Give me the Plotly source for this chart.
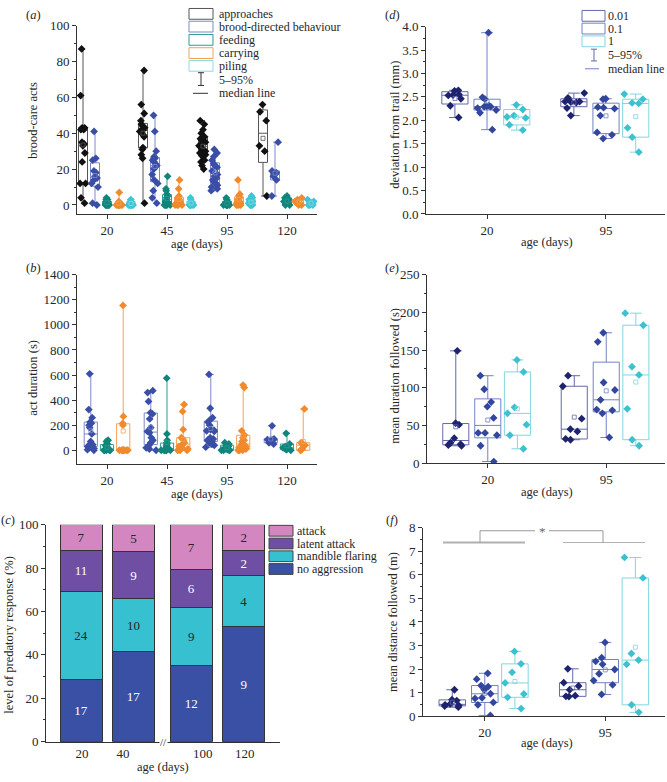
import numpy as np
import plotly.graph_objects as go

W, H = 667, 782
FONT = "Liberation Serif"
TXT = "#262626"

# ---------------- data ----------------
ages_a = ["20", "45", "95", "120"]
approaches = [[87, 61, 43, 43, 42, 42, 35, 34, 33, 29, 24, 12, 12, 4, 1],
              [75, 56, 51, 47, 45, 44, 43, 42, 42, 41, 40, 39, 38, 32, 31, 28, 26, 1],
              [47, 45, 42, 40, 38, 37, 36, 35, 34, 33, 32, 31, 30, 29, 28, 27, 25, 24, 22, 20],
              [56, 52, 47, 33, 30, 5]]
brood = [[41, 26, 25, 19, 18, 16, 15, 14, 12, 10, 1, 0],
         [50, 41, 30, 27, 26, 25, 24, 23, 22, 21, 20, 17, 14, 12, 8, 4, 1],
         [31, 29, 27, 25, 23, 22, 21, 19, 17, 16, 15, 14, 13, 12, 11, 10, 9, 8],
         [35, 19, 18, 17, 16, 14, 5]]
feeding = [[4, 3, 3, 2, 2, 2, 1, 1, 1, 0, 0, 0, 0, 0, 0],
           [16, 9, 8, 6, 5, 4, 3, 2, 2, 1, 1, 0, 0, 0, 0, 0],
           [4, 3, 2, 2, 1, 1, 0, 0, 0, 0, 0, 0, 0],
           [5, 4, 3, 2, 1, 0, 0]]
carrying = [[7, 2, 1, 1, 1, 0, 0, 0, 0, 0, 0, 0, 0],
            [14, 9, 5, 4, 3, 3, 2, 2, 1, 1, 0, 0, 0, 0],
            [14, 6, 5, 4, 3, 3, 2, 1, 1, 0, 0, 0, 0],
            [4, 3, 2, 1, 0, 0]]
piling = [[3, 2, 2, 1, 1, 0, 0, 0, 0, 0, 0, 0],
          [4, 3, 2, 2, 1, 1, 0, 0, 0, 0, 0, 0],
          [5, 4, 3, 2, 1, 1, 0, 0, 0, 0],
          [3, 2, 1, 0, 0, 0]]

dur_brood = [[610, 325, 260, 225, 215, 200, 180, 130, 70, 45, 40, 30, 15, 5, 0],
             [475, 460, 390, 300, 290, 250, 180, 150, 140, 100, 80, 60, 40, 20, 10, 0],
             [605, 335, 260, 240, 225, 200, 165, 160, 155, 150, 100, 90, 80, 60, 50, 40, 25],
             [195, 90, 85, 80, 70, 60, 50]]
dur_feeding = [[80, 70, 50, 40, 30, 20, 10, 5, 0, 0, 0, 0, 0],
               [575, 130, 80, 60, 50, 40, 30, 20, 10, 5, 0, 0, 0, 0, 0, 0],
               [60, 50, 40, 30, 20, 10, 5, 0, 0, 0, 0],
               [135, 50, 30, 20, 10, 5, 0]]
dur_carrying = [[1155, 270, 215, 200, 0, 0, 0, 0, 0, 0, 0, 0],
                [365, 310, 165, 100, 90, 80, 60, 50, 40, 30, 20, 10, 0, 0, 0],
                [520, 500, 155, 120, 100, 80, 70, 50, 40, 30, 20, 10, 0, 0, 0],
                [330, 60, 50, 40, 10, 0, 0]]

ages_c = ["20", "40", "100", "120"]
no_aggression = [17, 17, 12, 9]
mandible_flaring = [24, 10, 9, 4]
latent_attack = [11, 9, 6, 2]
attack = [7, 5, 7, 2]

ages_d = ["20", "95"]
dev_001 = [[2.64, 2.63, 2.55, 2.54, 2.53, 2.46, 2.31, 2.06],
           [2.58, 2.48, 2.40, 2.40, 2.39, 2.38, 2.26, 2.10]]
dev_01 = [[3.87, 2.49, 2.45, 2.31, 2.30, 2.29, 2.29, 2.26, 2.22, 2.16, 1.80],
          [2.46, 2.45, 2.28, 2.27, 2.25, 2.10, 1.74, 1.69, 1.61]]
dev_1 = [[2.33, 2.23, 2.10, 2.07, 2.05, 1.90, 1.79],
         [2.56, 2.45, 2.37, 2.36, 1.84, 1.64, 1.32]]

dur_001 = [[149, 53, 51, 33, 27, 25, 24, 23],
           [116, 102, 59, 45, 42, 32, 31]]
dur_01 = [[116, 98, 81, 75, 60, 40, 40, 37, 23, 2],
          [173, 161, 107, 97, 84, 71, 70, 66, 34]]
dur_1 = [[137, 121, 74, 66, 51, 37, 19],
         [199, 183, 128, 117, 72, 31, 23]]

dist_001 = [[1.12, 0.70, 0.66, 0.52, 0.48, 0.45, 0.43, 0.38],
            [2.01, 1.42, 1.28, 1.12, 0.87, 0.84, 0.83]]
dist_01 = [[1.82, 1.57, 1.30, 1.25, 1.12, 0.95, 0.78, 0.75, 0.58, 0.48, 0.03],
           [3.13, 2.48, 2.33, 2.20, 1.98, 1.80, 1.51, 1.33, 0.92]]
dist_1 = [[2.75, 2.22, 1.86, 1.41, 0.94, 0.80, 0.32],
          [6.74, 5.87, 2.66, 2.38, 2.20, 0.48, 0.16]]

# ---------------- helpers ----------------
def xdom(x0, x1):
    return [x0 / W, x1 / W]

def ydom(y0, y1):
    return [1 - y1 / H, 1 - y0 / H]

def px(x):
    return x / W

def py(y):
    return 1 - y / H

fig = go.Figure()

def add_boxes(groups, xa, ya, offset, width, line_c, mark_c, msize=6):
    # box: quartiles, whiskers to min / max (5-95% for these small samples)
    pos = [i + 1 + offset for i in range(len(groups))]
    q1 = [float(np.percentile(g, 25, method="weibull")) for g in groups]
    med = [float(np.median(g)) for g in groups]
    q3 = [float(np.percentile(g, 75, method="weibull")) for g in groups]
    lo = [float(min(g)) for g in groups]
    hi = [float(max(g)) for g in groups]
    fig.add_trace(go.Box(
        x=pos, q1=q1, median=med, q3=q3, lowerfence=lo, upperfence=hi,
        xaxis=xa, yaxis=ya, width=width, boxpoints=False, whiskerwidth=0.45,
        fillcolor="rgba(255,255,255,0)", line=dict(color=line_c, width=1),
        showlegend=False, hoverinfo="skip"))
    # mean marker (small open square)
    fig.add_trace(go.Scatter(
        x=pos, y=[float(np.mean(g)) for g in groups], xaxis=xa, yaxis=ya, mode="markers",
        marker=dict(symbol="square-open", size=4, color=line_c, line=dict(width=0.8)),
        showlegend=False, hoverinfo="skip"))
    # points
    xs, ys = [], []
    for i, vals in enumerate(groups):
        xs += [i + 1 + offset] * len(vals)
        ys += list(vals)
    fig.add_trace(go.Box(
        x=xs, y=ys, xaxis=xa, yaxis=ya, width=width,
        boxpoints="all", jitter=0.9, pointpos=0, whiskerwidth=0,
        fillcolor="rgba(255,255,255,0)", line=dict(color="rgba(0,0,0,0)", width=0),
        marker=dict(symbol="diamond", size=msize, color=mark_c),
        showlegend=False, hoverinfo="y"))

C_BLACK = ("#555555", "#111111")
C_BLUE = ("#7c89c9", "#3a4ea6")
C_TEAL = ("#2f9a93", "#11857b")
C_ORANGE = ("#f4a25a", "#f08a2a")
C_CYAN = ("#8adbe4", "#3ec5d6")

# panel (a)
for grp, off, col in [(approaches, -0.4, C_BLACK), (brood, -0.2, C_BLUE),
                      (feeding, 0.0, C_TEAL), (carrying, 0.2, C_ORANGE),
                      (piling, 0.4, C_CYAN)]:
    add_boxes(grp, "x", "y", off, 0.15, col[0], col[1], 6)

# panel (b)
for grp, off, col in [(dur_brood, -0.27, C_BLUE), (dur_feeding, 0.0, C_TEAL),
                      (dur_carrying, 0.27, C_ORANGE)]:
    add_boxes(grp, "x2", "y2", off, 0.22, col[0], col[1], 6)

# panel (c)
xpos_c = [1, 2, 3.1, 4.1]
tot = np.array(no_aggression) + np.array(mandible_flaring) + np.array(latent_attack) + np.array(attack)
for name, cnt, colr, tcol in [("no aggression", no_aggression, "#3a50a4", "white"),
                              ("mandible flaring", mandible_flaring, "#37c0d0", "#262626"),
                              ("latent attack", latent_attack, "#6e4fa3", "white"),
                              ("attack", attack, "#d386bf", "#262626")]:
    pct = np.array(cnt) / tot * 100
    fig.add_trace(go.Bar(
        x=xpos_c, y=pct, xaxis="x3", yaxis="y3", width=0.8,
        marker=dict(color=colr, line=dict(color="#333333", width=1)),
        text=[str(c) for c in cnt], textposition="inside", insidetextanchor="middle",
        textfont=dict(family=FONT, size=13, color=tcol), constraintext="none",
        showlegend=False, name=name, hoverinfo="name+y"))

# panels (d), (e), (f)
C_N = ("#6468a9", "#1e236e")
C_B = ("#7283c5", "#33469d")
C_C = ("#80d6df", "#3cc1cf")
for sets, xa, ya in [((dev_001, dev_01, dev_1), "x4", "y4"),
                     ((dur_001, dur_01, dur_1), "x5", "y5"),
                     ((dist_001, dist_01, dist_1), "x6", "y6")]:
    for grp, off, col in zip(sets, (-0.27, 0.0, 0.25), (C_N, C_B, C_C)):
        add_boxes(grp, xa, ya, off, 0.22, col[0], col[1], 6)

# ---------------- axes ----------------
def ax_common():
    return dict(showline=True, linecolor="#333333", linewidth=1, ticks="outside",
                ticklen=4, tickcolor="#333333", showgrid=False, zeroline=False,
                tickfont=dict(family=FONT, size=13, color=TXT), fixedrange=True)

def minor(vals):
    return dict(tickvals=vals, ticks="outside", ticklen=2, tickcolor="#333333")

lay = dict(width=W, height=H, margin=dict(l=0, r=0, t=0, b=0),
           paper_bgcolor="white", plot_bgcolor="white", showlegend=False,
           boxmode="overlay", barmode="stack", bargap=0)

lay["xaxis"] = dict(ax_common(), domain=xdom(77, 317), range=[0.5, 4.5],
                    tickvals=[1, 2, 3, 4], ticktext=ages_a, anchor="y")
lay["yaxis"] = dict(ax_common(), domain=ydom(19, 211), range=[-5, 100],
                    tickvals=[0, 20, 40, 60, 80, 100], anchor="x",
                    minor=minor([10, 30, 50, 70, 90]))
lay["xaxis2"] = dict(ax_common(), domain=xdom(77, 317), range=[0.5, 4.5],
                     tickvals=[1, 2, 3, 4], ticktext=ages_a, anchor="y2")
lay["yaxis2"] = dict(ax_common(), domain=ydom(273, 466), range=[-110, 1400],
                     tickvals=list(range(0, 1401, 200)), anchor="x2",
                     minor=minor(list(range(100, 1400, 200))))
lay["xaxis3"] = dict(ax_common(), domain=xdom(46, 280), range=[0.333, 4.79],
                     tickvals=[1.02, 1.8, 3.32, 4.12], ticktext=ages_c, anchor="y3", ticks="")
lay["yaxis3"] = dict(ax_common(), domain=ydom(528, 749), range=[0, 100],
                     tickvals=list(range(0, 101, 20)), anchor="x3",
                     minor=minor(list(range(10, 100, 20))))
lay["xaxis4"] = dict(ax_common(), domain=xdom(426, 665), range=[0.487, 2.496],
                     tickvals=[1, 2], ticktext=ages_d, anchor="y4")
lay["yaxis4"] = dict(ax_common(), domain=ydom(20, 211), range=[0, 4.0],
                     tickvals=[i * 0.5 for i in range(9)], tickformat=".1f", anchor="x4",
                     minor=minor([0.25 + i * 0.5 for i in range(8)]))
lay["xaxis5"] = dict(ax_common(), domain=xdom(427, 665), range=[0.487, 2.496],
                     tickvals=[1, 2], ticktext=ages_d, anchor="y5")
lay["yaxis5"] = dict(ax_common(), domain=ydom(273, 465), range=[0, 250],
                     tickvals=list(range(0, 251, 50)), anchor="x5",
                     minor=minor(list(range(25, 250, 50))))
lay["xaxis6"] = dict(ax_common(), domain=xdom(423, 665), range=[0.487, 2.496],
                     tickvals=[1, 2], ticktext=ages_d, anchor="y6")
lay["yaxis6"] = dict(ax_common(), domain=ydom(531, 723), range=[0, 8],
                     tickvals=list(range(0, 9)), anchor="x6",
                     minor=minor([0.5 + i for i in range(8)]))

shapes = []
annots = []

def text(x, y, s, size=12.5, anchor="center", angle=0, color=TXT, bg=None):
    d = dict(x=px(x), y=py(y), xref="paper", yref="paper", text=s, showarrow=False,
             xanchor=anchor, yanchor="middle", textangle=angle, borderpad=0,
             font=dict(family=FONT, size=size, color=color))
    if bg:
        d["bgcolor"] = bg
    annots.append(d)

def rect(x0, y0, x1, y1, line, fill="white", lw=1):
    shapes.append(dict(type="rect", xref="paper", yref="paper", x0=px(x0), x1=px(x1),
                       y0=py(y1), y1=py(y0), line=dict(color=line, width=lw), fillcolor=fill))

def line(x0, y0, x1, y1, color="#333333", lw=1):
    shapes.append(dict(type="line", xref="paper", yref="paper", x0=px(x0), x1=px(x1),
                       y0=py(y0), y1=py(y1), line=dict(color=color, width=lw)))

# panel labels
text(25, 8, "(<i>a</i>)", anchor="left")
text(25, 266, "(<i>b</i>)", anchor="left")
text(0, 523, "(<i>c</i>)", anchor="left")
text(384, 8, "(<i>d</i>)", anchor="left")
text(384, 266, "(<i>e</i>)", anchor="left")
text(385, 523, "(<i>f</i>)", anchor="left")

# axis titles
text(33, 116, "brood-care acts", angle=-90)
text(33, 378, "act duration (s)", angle=-90)
text(9, 640, "level of predatory response (%)", angle=-90)
text(395, 120, "deviation from trail (mm)", angle=-90)
text(395, 376, "mean duration followed (s)", angle=-90)
text(393, 627, "mean distance followed (m)", angle=-90)
for x, y in [(197, 242), (197, 497), (163, 775), (547, 240), (547, 494), (547, 750)]:
    text(x, y, "age (days)")

# axis break in (c)
text(163, 749, "//", size=11, bg="white")

LEG = 12
# legend (a)
for yc, nm, lc in [(7, "approaches", "#555555"), (20, "brood-directed behaviour", "#7c89c9"),
                   (33.5, "feeding", "#2f9a93"), (47, "carrying", "#f4a25a"), (60, "piling", "#8adbe4")]:
    rect(189, yc - 5.5, 213, yc + 5.5, lc)
    text(218, yc, nm, anchor="left", size=LEG)
line(201, 67, 201, 80); line(198, 67, 204, 67); line(198, 80, 204, 80)
text(218, 74, "5–95%", anchor="left", size=LEG)
line(193, 88, 208, 88)
text(218, 88, "median line", anchor="left", size=LEG)

# legend (c)
for yc, nm, fc in [(534, "attack", "#d386bf"), (547, "latent attack", "#6e4fa3"),
                   (560, "mandible flaring", "#37c0d0"), (573, "no aggression", "#3a50a4")]:
    rect(269, yc - 5.5, 293, yc + 5.5, "#444444", fc)
    text(296, yc, nm, anchor="left", size=LEG)

# legend (d)
for yc, nm, lc in [(9, "0.01", "#6468a9"), (22, "0.1", "#7283c5"), (35, "1", "#80d6df")]:
    rect(582, yc - 5.5, 605, yc + 5.5, lc)
    text(607, yc, nm, anchor="left", size=LEG)
line(594, 43, 594, 55, "#6468a9"); line(591, 43, 597, 43, "#6468a9"); line(591, 55, 597, 55, "#6468a9")
text(607, 49, "5–95%", anchor="left", size=LEG)
line(585, 63, 599, 63, "#7283c5")
text(607, 63, "median line", anchor="left", size=LEG)

# significance bracket in (f)
line(443, 546, 525, 546, "#b0b0b0", 2)
line(563, 546, 645, 546, "#b0b0b0", 1)
line(480, 546, 480, 534, "#999999"); line(603, 546, 603, 534, "#999999")
line(480, 534, 535, 534, "#999999"); line(549, 534, 603, 534, "#999999")
text(542, 535, "*", size=13, color="#666666")

lay["shapes"] = shapes
lay["annotations"] = annots
fig.update_layout(**lay)
fig.write_html("out.html", config={"displayModeBar": False, "staticPlot": True},
               post_script="document.body.style.margin='0px';document.body.style.padding='0px';")
